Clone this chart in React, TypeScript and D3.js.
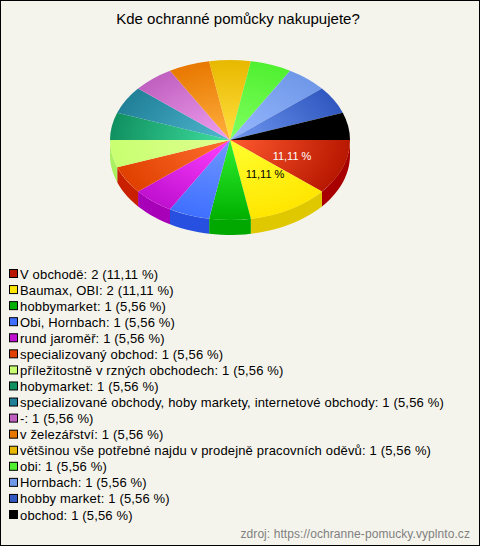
import React from "react";
import * as d3 from "d3";

const title = "Kde ochranné pomůcky nakupujete?";
const source = "zdroj: https://ochranne-pomucky.vyplnto.cz";
const categories = ["V obchodě","Baumax, OBI","hobbymarket","Obi, Hornbach","rund jaroměř","specializovaný obchod","příležitostně v rzných obchodech","hobymarket","specializované obchody, hoby markety, internetové obchody","-","v železářství","většinou vše potřebné najdu v prodejně pracovních oděvů","obi","Hornbach","hobby market","obchod"];
const values = [2,2,1,1,1,1,1,1,1,1,1,1,1,1,1,1];
const percents = ["11,11","11,11","5,56","5,56","5,56","5,56","5,56","5,56","5,56","5,56","5,56","5,56","5,56","5,56","5,56","5,56"];
const baseColors = ["#b81800","#ffe600","#00b000","#3f6fff","#c010d0","#e04000","#c8ff70","#109060","#208098","#c060c0","#e87800","#e8b800","#50f030","#6f98e8","#3058c0","#000000"];
const innerColors = ["#ff5a30","#ffff30","#30f030","#7098ff","#ff40ff","#ff7030","#e0ff90","#40e0a0","#50b8d0","#f0a0f0","#ffb040","#ffe040","#80ff60","#98b8ff","#7098f0","#000000"];
const sideColors = ["#a80000","#e0c800","#00a800","#2850e0","#a800b8","#c82000","#a8f060","#008050","#106880","#a050a0","#c86000","#c89800","#40d020","#5080d0","#2040a0","#000000"];

const W = 480, H = 546, cx = 230, cy = 140, rx = 120, ry = 80, depth = 15;

export default function App() {
  const pie = d3.pie<number>().value(d => d).sort(null).startAngle(Math.PI / 2).endAngle(Math.PI / 2 + 2 * Math.PI);
  const arcs = pie(values);
  const arc = d3.arc<any>().innerRadius(0).outerRadius(1);
  const pt = (a: number, dy = 0) => [cx + rx * Math.sin(a), cy + dy - ry * Math.cos(a)];
  const step = 0.05;
  const sidePath = (a0: number, a1: number) => {
    const pts: number[][] = [];
    for (let a = a0; a < a1; a += step) pts.push(pt(a));
    pts.push(pt(a1));
    const low = pts.map(p => [p[0], p[1] + depth]).reverse();
    return d3.line()(pts.concat(low) as any) + "Z";
  };
  const frontArcs = arcs.map((d, i) => ({ i, a0: Math.max(d.startAngle, Math.PI / 2), a1: Math.min(d.endAngle, 3 * Math.PI / 2) })).filter(s => s.a1 > s.a0);
  const legendY = d3.scaleLinear().domain([0, categories.length - 1]).range([274, 515]);
  return (
    <svg width={W} height={H} style={{ position: "absolute", left: 0, top: 0, display: "block" }}>
      <defs>
        {arcs.map((_, i) => (
          <radialGradient key={i} id={`g${i}`} cx="0" cy="0" r="1" gradientUnits="userSpaceOnUse">
            <stop offset="0" stopColor={innerColors[i]} />
            <stop offset="1" stopColor={baseColors[i]} />
          </radialGradient>
        ))}
      </defs>
      <rect x={0.5} y={0.5} width={W - 1} height={H - 1} fill="#f5f4ec" stroke="#000" />
      <text x={238} y={24} textAnchor="middle" fontFamily="Liberation Sans" fontSize={15} fill="#000">{title}</text>
      {frontArcs.map(s => <path key={s.i} d={sidePath(s.a0, s.a1)} fill={sideColors[s.i]} />)}
      <g transform={`translate(${cx},${cy}) scale(${rx},${ry})`}>
        {arcs.map((d, i) => <path key={i} d={arc(d) as string} fill={`url(#g${i})`} />)}
      </g>
      <text x={292} y={160} textAnchor="middle" fontFamily="Liberation Sans" fontSize={11} fill="#fff">{percents[0]} %</text>
      <text x={265} y={178} textAnchor="middle" fontFamily="Liberation Sans" fontSize={11} fill="#000">{percents[1]} %</text>
      {categories.map((c, i) => (
        <g key={i}>
          <rect x={9.5} y={legendY(i) - 4.5} width={8} height={8} fill={baseColors[i]} stroke="#000" />
          <text x={20} y={legendY(i) + 4.5} fontFamily="Liberation Sans" fontSize={13} letterSpacing={0.16} fill="#000">{`${c}: ${values[i]} (${percents[i]} %)`}</text>
        </g>
      ))}
      <text x={470} y={538} textAnchor="end" fontFamily="Liberation Sans" fontSize={12} letterSpacing={0.07} fill="#808080">{source}</text>
    </svg>
  );
}
